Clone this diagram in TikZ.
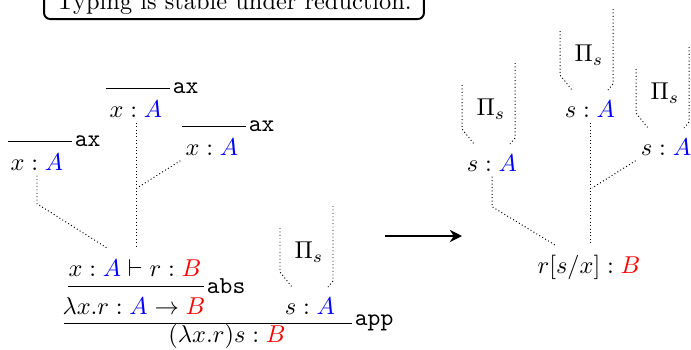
\documentclass[tikz,border=0pt]{standalone}
\usepackage{amsmath}
\usepackage{xcolor}
\usetikzlibrary{arrows.meta}
\newcommand{\tyA}{{\color{blue}A}}
\newcommand{\tyB}{{\color{red}B}}
\tikzset{
  jdg/.style={inner sep=2pt},
  rulename/.style={anchor=west, inner sep=1pt, font=\ttfamily},
  derivdots/.style={densely dotted},
  reduces/.style={-{Stealth[length=5pt,width=5pt]}, very thick},
  titlebox/.style={draw, thick, rounded corners=2.5pt, inner xsep=5pt, inner ysep=2pt},
}
% dotted subderivation of s above a judgment node
\newcommand{\pitree}[1]{%
  \draw[derivdots] ([shift={(-30,-78)}]#1.center) -- ++(0,44) -- ++(12,15);
  \draw[derivdots] ([shift={(23,-100)}]#1.center) -- ++(0,75) -- ++(-5,6);
  \node (#1pi) at ([shift={(-1,-54)}]#1.center) {$\Pi_s$};
}

\begin{document}
\begin{tikzpicture}[x=0.41pt,y=-0.41pt]
  \useasboundingbox (0,0) rectangle (691,349);
  \node[titlebox, anchor=south] (title) at (234,20) {Typing is stable under reduction.};

  % before the step
  \node[jdg] (l1) at (37,162) {$x : \tyA$};
  \node[jdg] (l2) at (136,109) {$x : \tyA$};
  \node[jdg] (l3) at (212,147) {$x : \tyA$};
  \draw (8,141) -- (72,141) node[rulename] (ax1) {ax};
  \draw (106,88) -- (170,88) node[rulename] (ax2) {ax};
  \draw (182,126) -- (246,126) node[rulename] (ax3) {ax};
  \node[jdg] (hyp) at (135,268) {$x : \tyA \vdash r : \tyB$};
  \coordinate (m1) at (107,248);
  \coordinate (m2) at (136,247);
  \coordinate (m3) at (137,188);
  \draw[derivdots] (l1.south) -- ++(0,28) -- (m1);
  \draw[derivdots] (l2.south) -- (m2);
  \draw[derivdots] (l3.south west) -- (m3);
  \draw (68,286) -- (204,286) node[rulename] (abs) {abs};
  \node[jdg] (lam) at (134,306) {$\lambda x.r : \tyA \to \tyB$};
  \node[jdg] (sl) at (310,306) {$s : \tyA$};
  \pitree{sl}
  \draw (64,323) -- (352,323) node[rulename] (app) {app};
  \node[jdg] (redex) at (227,336) {$(\lambda x.r)s : \tyB$};

  % the step
  \coordinate (ar1) at (385,236);
  \coordinate (ar2) at (462,236);
  \draw[reduces] (ar1) -- (ar2);

  % after the step
  \node[jdg] (s1) at (492,163) {$s : \tyA$};
  \node[jdg] (s2) at (590,109) {$s : \tyA$};
  \node[jdg] (s3) at (666,147) {$s : \tyA$};
  \pitree{s1} \pitree{s2} \pitree{s3}
  \node[jdg] (sub) at (589,267) {$r[s/x] : \tyB$};
  \coordinate (n1) at (555,245);
  \coordinate (n2) at (590,243);
  \coordinate (n3) at (592,188);
  \draw[derivdots] (s1.south) -- ++(0,30) -- (n1);
  \draw[derivdots] (s2.south) -- (n2);
  \draw[derivdots] (s3.south west) -- (n3);
\end{tikzpicture}
\end{document}
